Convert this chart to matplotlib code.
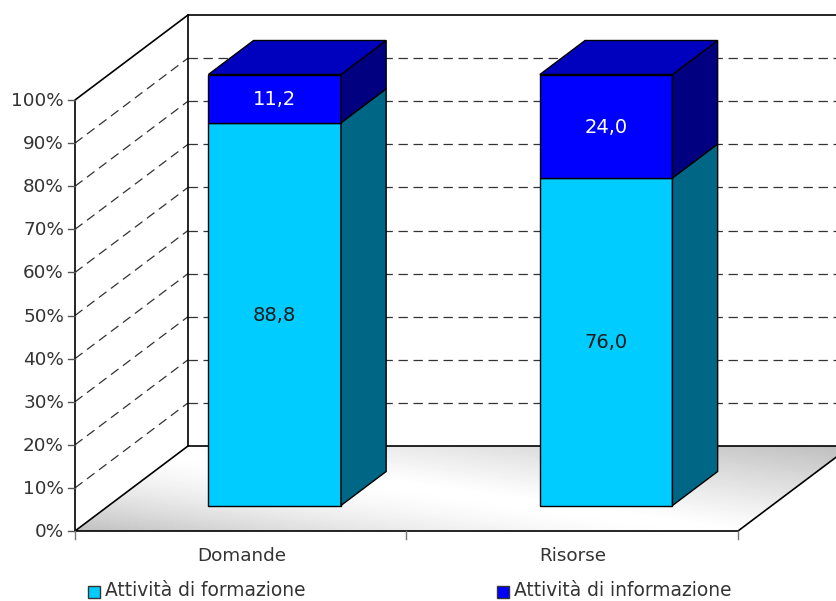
import matplotlib
matplotlib.use('Agg')

import matplotlib.pyplot as plt
from matplotlib.patches import Polygon, Rectangle
import numpy as np

categories = ['Domande', 'Risorse']
series_names = ['Attività di formazione', 'Attività di informazione']
formazione = [88.8, 76.0]
informazione = [11.2, 24.0]
value_ticks = [0, 10, 20, 30, 40, 50, 60, 70, 80, 90, 100]

front_color = ['#00CCFF', '#0000FF']
side_color = ['#006685', '#000080']
top_color = '#0000BF'
label_color = ['#1a1a1a', '#ffffff']

# pixel layout of the 3D box
X0, Y0 = 75.0, 531.0
CAT_W = 331.5
PX_PER_PCT = 4.31
DX, DY = 113.0, -85.0


def project(cat, val, depth=0.0):
    return (X0 + cat * CAT_W + depth * DX, Y0 - val * PX_PER_PCT + depth * DY)


fig = plt.figure(figsize=(8.37, 6.01), dpi=100)
ax = fig.add_axes([0, 0, 1, 1])
ax.set_xlim(0, 837)
ax.set_ylim(601, 0)
ax.axis('off')
plt.rcParams['font.family'] = 'DejaVu Sans'

n_cat = len(categories)

# floor with a diagonal grey gradient, lightest along a band across the middle
corners = [project(0, 0), project(n_cat, 0), project(n_cat, 0, 1), project(0, 0, 1)]
xx, yy = np.meshgrid(np.arange(60, 860), np.arange(440, 540))
band_y = 450 + (xx - 170) * 0.142
above = np.clip((band_y - yy) / 98.0, 0, 1)
below = np.clip((yy - band_y) / 93.0, 0, 1)
shade = 1.0 - 0.25 * above ** 1.1 - 0.25 * below ** 1.6
img = ax.imshow(shade, cmap='gray', vmin=0, vmax=1, extent=(60, 860, 540, 440),
                aspect='auto', zorder=1, interpolation='bilinear')
floor = Polygon(corners, closed=True, facecolor='none', edgecolor='black', lw=1.2, zorder=2)
ax.add_patch(floor)
img.set_clip_path(floor)
ax.set_xlim(0, 837)
ax.set_ylim(601, 0)

# walls and dashed gridlines
dash = (0, (7.5, 4.5))
for v in value_ticks[1:-1]:
    x1, y1 = project(0, v)
    x2, y2 = project(0, v, 1)
    x3, y3 = project(n_cat, v, 1)
    ax.plot([x1, x2], [y1, y2], color='#333333', lw=0.9, ls=dash, zorder=2)
    ax.plot([x2, x3], [y2, y3], color='#333333', lw=0.9, ls=dash, zorder=2)

x1, y1 = project(0, 0)
x2, y2 = project(0, 100)
x3, y3 = project(0, 100, 1)
x4, y4 = project(n_cat, 100, 1)
x5, y5 = project(0, 0, 1)
ax.plot([x1, x2, x3, x4], [y1, y2, y3, y4], color='black', lw=1.2, zorder=2)
ax.plot([x3, x5], [y3, y5], color='black', lw=1.2, zorder=2)

# axis ticks and labels
for v in value_ticks:
    x, y = project(0, v)
    ax.plot([x - 7, x], [y, y], color='#555555', lw=1.0, zorder=2)
    ax.text(x - 11, y + 1, f'{v}%', ha='right', va='center', fontsize=13.2, color='#333333')
for c in range(n_cat + 1):
    x, y = project(c, 0)
    ax.plot([x, x], [y, y + 8], color='#777777', lw=1.0, zorder=2)
for c, name in enumerate(categories):
    x, y = project(c + 0.5, 0)
    ax.text(x + 1, 556, name, ha='center', va='center', fontsize=13.2, color='#333333')

# stacked bars, each segment drawn as a front, side and top face
LEFT, RIGHT = 0.3, 0.7
D0, D1 = 0.3, 0.7
for c in range(n_cat):
    base = 0.0
    for s, vals in enumerate([formazione, informazione]):
        v = vals[c]
        top = base + v
        front = [project(c + LEFT, base, D0), project(c + RIGHT, base, D0),
                 project(c + RIGHT, top, D0), project(c + LEFT, top, D0)]
        side = [project(c + RIGHT, base, D0), project(c + RIGHT, base, D1),
                project(c + RIGHT, top, D1), project(c + RIGHT, top, D0)]
        ax.add_patch(Polygon(front, closed=True, facecolor=front_color[s], edgecolor='black', lw=1.0, zorder=4))
        ax.add_patch(Polygon(side, closed=True, facecolor=side_color[s], edgecolor='black', lw=1.0, zorder=4))
        cx, cy = project(c + 0.5, base + v / 2, D0)
        ax.text(cx, cy + 1, f'{v:.1f}'.replace('.', ','), ha='center', va='center',
                fontsize=14, color=label_color[s], zorder=5)
        base = top
    roof = [project(c + LEFT, base, D0), project(c + RIGHT, base, D0),
            project(c + RIGHT, base, D1), project(c + LEFT, base, D1)]
    ax.add_patch(Polygon(roof, closed=True, facecolor=top_color, edgecolor='black', lw=1.0, zorder=4))

# legend
legend_x = [88, 497]
for s, name in enumerate(series_names):
    ax.add_patch(Rectangle((legend_x[s], 586), 12, 12, facecolor=front_color[s], edgecolor='#333333', lw=1.0))
    ax.text(legend_x[s] + 17, 596, name, ha='left', va='baseline', fontsize=13.4, color='#333333')

fig.savefig('out.png', dpi=100)
